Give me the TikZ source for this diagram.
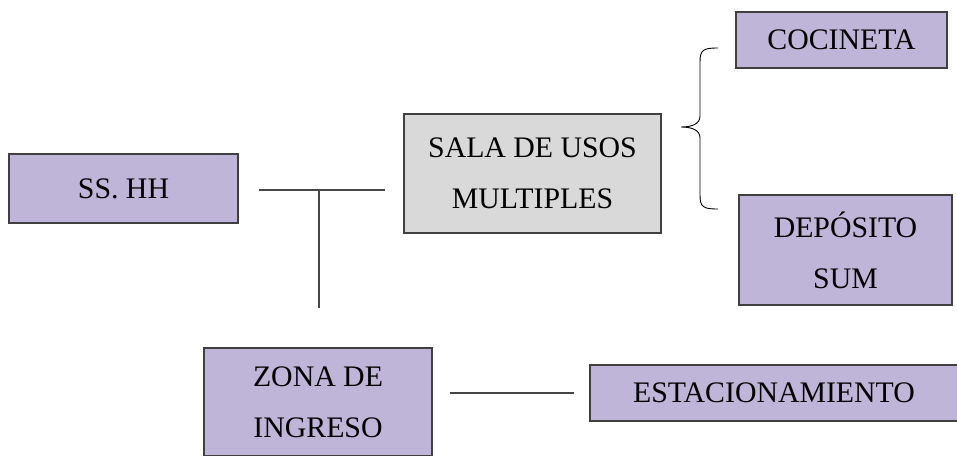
\documentclass[tikz,border=0pt]{standalone}
\usepackage{fontspec}
\setmainfont{Liberation Serif}
\definecolor{lila}{RGB}{191,181,216}
\definecolor{gris}{RGB}{217,217,217}
\definecolor{borde}{RGB}{64,64,64}
\definecolor{linea}{RGB}{70,70,70}

\begin{document}
\begin{tikzpicture}[x=1pt, y=-1pt,
        zona/.style={draw=borde, line width=1.2pt, fill=lila, inner sep=0pt, align=center,
            font=\fontsize{29.8}{51}\selectfont},
        sala/.style={zona, fill=gris},
        enlace/.style={draw=linea, line width=1.2pt}]

        \useasboundingbox (0,0) rectangle (957,455);
        \clip (0,0) rectangle (957,455);

        % ambientes
        \node[name=sshh, zona, minimum width=229pt, minimum height=69pt] at (123.5, 188.5) {SS. HH};
        \node[name=sum, sala, minimum width=257pt, minimum height=119pt] at (532.5, 173.5) {SALA DE USOS\\MULTIPLES};
        \node[name=cocineta, zona, minimum width=211pt, minimum height=56pt] at (841.5, 40) {COCINETA};
        \node[name=deposito, zona, minimum width=213pt, minimum height=110pt] at (845.5, 250) {DEPÓSITO\\SUM};
        \node[name=ingreso, zona, minimum width=228pt, minimum height=108pt] at (318, 402) {ZONA DE\\INGRESO};
        \node[name=estac, zona, minimum width=368pt, minimum height=56pt] at (774, 393) {ESTACIONAMIENTO};

        % uniones
        \coordinate (a_1) at (259, 190);
        \coordinate (a_2) at (385, 190);
        \coordinate (a_3) at (319, 190);
        \coordinate (a_4) at (319, 308);
        \coordinate (b_1) at (450, 393);
        \coordinate (b_2) at (574, 393);
        \draw[enlace] (a_1) -- (a_2);
        \draw[enlace] (a_3) -- (a_4);
        \draw[enlace] (b_1) -- (b_2);

        % llave
        \draw[enlace, draw=black, line width=0.9pt] (718, 48) .. controls (703, 48) and (700, 50) .. (700, 62)
            -- (700, 116) .. controls (700, 124) and (692, 127) .. (681, 127)
            .. controls (692, 127) and (700, 130) .. (700, 138)
            -- (700, 195) .. controls (700, 207) and (703, 209) .. (718, 209);
    \end{tikzpicture}
\end{document}
